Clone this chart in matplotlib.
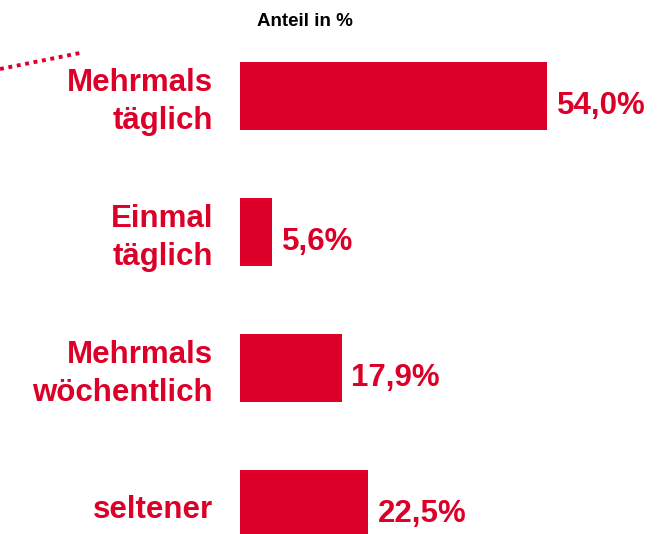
import matplotlib.pyplot as plt
from matplotlib.lines import Line2D

plt.rcParams['font.family'] = ['Liberation Sans', 'DejaVu Sans']

categories = ["Mehrmals\ntäglich", "Einmal\ntäglich", "Mehrmals\nwöchentlich", "seltener"]
values = [54.0, 5.6, 17.9, 22.5]
value_labels = ["54,0%", "5,6%", "17,9%", "22,5%"]

red = "#DC0028"

fig = plt.figure(figsize=(6.68, 5.34), dpi=100)
ax = fig.add_axes([240 / 668, 0, 428 / 668, 1])

pos = list(range(len(categories)))
ax.barh(pos, values, height=0.5, color=red)
ax.set_xlim(0, 428 / 5.685)
ax.set_ylim(534 / 136 - 96 / 136, -96 / 136)
ax.axis("off")

for p, v, lab in zip(pos, values, value_labels):
    ax.text(v + 1.7, p + 0.07, lab, color=red, fontsize=22.5, fontweight="bold",
            va="center", ha="left")

for p, cat in zip(pos, categories):
    ax.text(-27 / 5.685, p + 0.045, cat, color=red, fontsize=22.5, fontweight="bold",
            va="center", ha="right", multialignment="right", linespacing=1.35)

fig.text(305 / 668, 1 - 22 / 534, "Anteil in %", fontsize=13.5, fontweight="bold",
         ha="center", va="center", color="black")

fig.add_artist(Line2D([0, 80 / 668], [1 - 69 / 534, 1 - 53 / 534],
                      transform=fig.transFigure, color=red, linestyle=(0, (1, 1.2)),
                      linewidth=2.8, dash_capstyle="butt"))

fig.savefig("out.png", dpi=100)
